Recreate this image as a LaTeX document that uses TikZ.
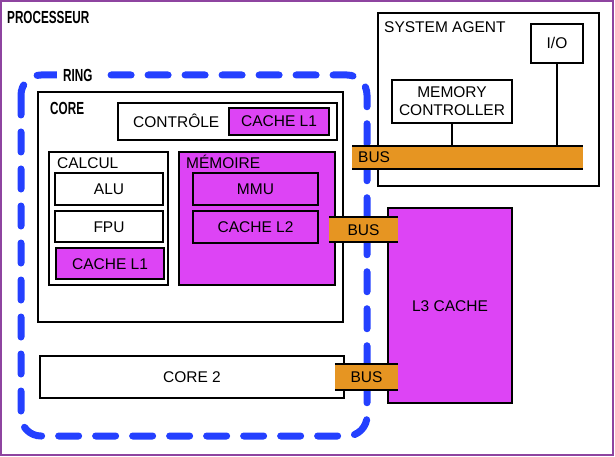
\documentclass[tikz,border=0pt]{standalone}
\usepackage{fontspec}
\setmainfont{Liberation Sans}
\usetikzlibrary{calc}
\definecolor{cachemag}{RGB}{221,68,245}
\definecolor{busorange}{RGB}{230,149,34}
\definecolor{ringblue}{RGB}{36,64,255}
\definecolor{cpupurple}{RGB}{142,68,160}

\begin{document}
\begin{tikzpicture}[x=1pt, y=-1pt,
  every node/.style={font=\fontsize{15.5}{18}\selectfont, inner sep=0pt},
  frame/.style={draw, line width=1.5pt},
  box/.style={frame, fill=white, text height=11pt, text depth=0pt},
  cache/.style={frame, fill=cachemag, text height=11pt, text depth=0pt},
  bus/.style={fill=busorange, text height=11pt, text depth=0pt},
  caption/.style={anchor=west, text height=11pt, text depth=0pt},
  title/.style={anchor=west, text height=12.5pt, text depth=0pt, font=\fontsize{17.5}{20}\selectfont\bfseries},
  ring/.style={draw=ringblue, line width=7pt, line cap=round, dash pattern=on 20pt off 17pt, rounded corners=20pt}
]
\useasboundingbox (0,0) rectangle (615,457);

% processeur
\node[draw=cpupurple, line width=2pt, minimum width=612pt, minimum height=454pt] (cpu) at (307,228) {};
\node[title] (cpu-t) at (7,17) {\scalebox{0.67}[1]{PROCESSEUR}};

% ring
\draw[ring] (21,75) rectangle (367,436);
\node[title, fill=white, inner xsep=6pt] (ring-t) at (57,75) {\scalebox{0.67}[1]{RING}};

% core
\node[frame, fill=white, minimum width=305pt, minimum height=230pt] (core) at (190.5,207) {};
\node[title] (core-t) at (50,108) {\scalebox{0.67}[1]{CORE}};

\node[frame, minimum width=219pt, minimum height=37pt] (ctrl) at (227.5,121.5) {};
\node[caption] (ctrl-t) at (133,122) {CONTRÔLE};
\node[cache, minimum width=100pt, minimum height=27pt] (ctrl-l1) at (279,121.5) {CACHE L1};

\node[frame, minimum width=119pt, minimum height=133pt] (calc) at (108.5,218.5) {};
\node[caption] (calc-t) at (57,163) {CALCUL};
\node[box, minimum width=108pt, minimum height=32pt] (alu) at (109,189) {ALU};
\node[box, minimum width=108pt, minimum height=31pt] (fpu) at (109,226.5) {FPU};
\node[cache, minimum width=108pt, minimum height=31pt] (calc-l1) at (110,263.5) {CACHE L1};

\node[frame, fill=cachemag, minimum width=156pt, minimum height=133pt] (mem) at (257,218.5) {};
\node[caption] (mem-t) at (186,163) {MÉMOIRE};
\node[cache, minimum width=125pt, minimum height=32pt] (mmu) at (255.5,189) {MMU};
\node[cache, minimum width=125pt, minimum height=32pt] (l2) at (255.5,227) {CACHE L2};

% core 2 et L3
\node[box, minimum width=304pt, minimum height=42pt] (core2) at (192,377) {CORE 2};
\node[cache, minimum width=124pt, minimum height=195pt] (l3) at (450,305.5) {L3 CACHE};

% system agent
\node[frame, fill=white, minimum width=221pt, minimum height=173pt] (sa) at (488.5,99.5) {};
\node[caption] (sa-t) at (384,27.5) {SYSTEM AGENT};
\node[box, minimum width=52pt, minimum height=39pt] (io) at (557,43.5) {I/O};
\node[frame, fill=white, align=center, minimum width=120pt, minimum height=43pt] (mc) at (452,101.5) {MEMORY\\CONTROLLER};

% bus
\node[bus, anchor=west, text width=219pt, align=left, inner xsep=6pt, minimum height=23pt] (bus-sa) at (352,157.5) {BUS};
\node[bus, minimum width=69pt, minimum height=25pt] (bus-l3) at (363.5,229.5) {BUS};
\node[bus, minimum width=63pt, minimum height=26pt] (bus-c2) at (366.5,377) {BUS};
\foreach \b in {bus-sa, bus-l3, bus-c2}
  \draw[line width=1.5pt] (\b.north west) -- (\b.north east) (\b.south west) -- (\b.south east);

\draw[line width=1.5pt] (mc.south) -- (mc.south |- bus-sa.north);
\draw[line width=1.5pt] (io.south) -- (io.south |- bus-sa.north);
\end{tikzpicture}
\end{document}
